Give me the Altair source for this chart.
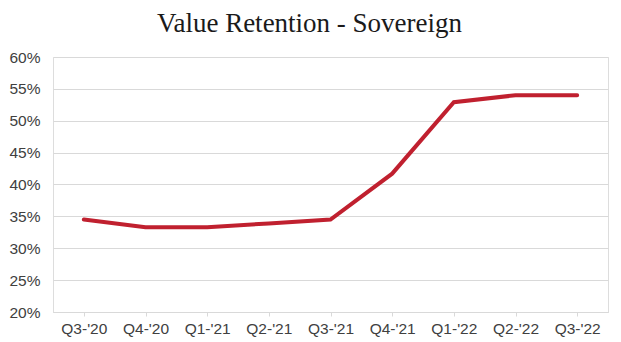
import altair as alt
import pandas as pd

quarters = ["Q3-'20", "Q4-'20", "Q1-'21", "Q2-'21", "Q3-'21", "Q4-'21", "Q1-'22", "Q2-'22", "Q3-'22"]
retention = [0.345, 0.333, 0.333, 0.339, 0.345, 0.417, 0.529, 0.540, 0.540]
y_ticks = [0.20, 0.25, 0.30, 0.35, 0.40, 0.45, 0.50, 0.55, 0.60]

df = pd.DataFrame({"quarter": quarters, "retention": retention})

chart = alt.Chart(df).mark_line(
    color="#C0202F", strokeWidth=4, strokeCap="round"
).encode(
    x=alt.X("quarter:O", sort=quarters, title=None,
            scale=alt.Scale(type="point", padding=0.5),
            axis=alt.Axis(labelAngle=0, labelFont="Liberation Sans", labelFontSize=15.5,
                          labelColor="#404040", domainColor="#d9d9d9", tickColor="#d9d9d9",
                          tickSize=4, labelPadding=5, grid=False)),
    y=alt.Y("retention:Q", title=None,
            scale=alt.Scale(domain=[0.2, 0.6], nice=False, zero=False),
            axis=alt.Axis(values=y_ticks, format=".0%", labelFont="Liberation Sans",
                          labelFontSize=15.5, labelColor="#404040", ticks=False, domain=False,
                          gridColor="#d9d9d9", gridWidth=1, labelPadding=13)),
).properties(
    width=555, height=255,
    autosize=alt.AutoSizeParams(type="none"),
    padding={"left": 45, "top": 49, "right": 5, "bottom": 30},
    title=alt.TitleParams("Value Retention - Sovereign", font="Liberation Serif", fontSize=27,
                          fontWeight="normal", color="#1a1a1a", anchor="middle", dx=-21, offset=12),
).configure_view(stroke=None).configure(background="white")

chart.save("out.html", embed_options={"renderer": "svg", "actions": False})
